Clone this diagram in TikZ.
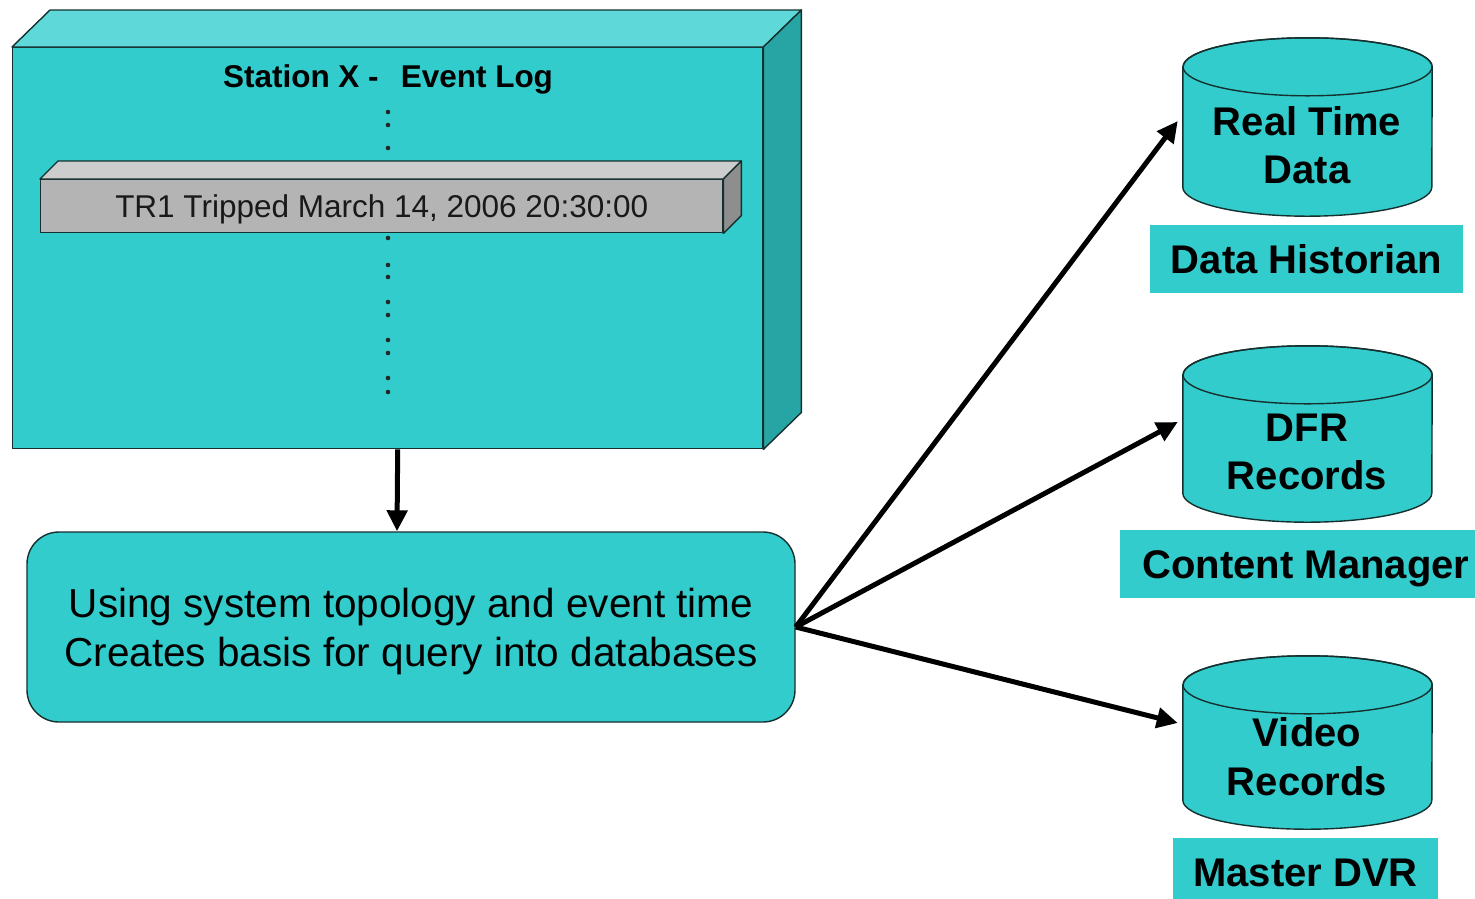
\documentclass[tikz,border=0pt]{standalone}
\usepackage{fontspec}
\setmainfont{Liberation Sans}
\usetikzlibrary{arrows.meta,calc}

\definecolor{aqua}{HTML}{33CCCC}
\definecolor{aquatop}{HTML}{5ED8D8}
\definecolor{aquaside}{HTML}{27A5A5}
\definecolor{barfront}{HTML}{B4B4B4}
\definecolor{bartop}{HTML}{CDCDCD}
\definecolor{barside}{HTML}{8E8E8E}
\definecolor{outline}{HTML}{15302F}

\tikzset{
  edge/.style={draw=outline, line width=1.4pt, line join=round},
  arr/.style={line width=5pt, -{Triangle[length=21pt,width=20pt]}},
  captext/.style={inner sep=0pt, text depth=0pt},
  tagbox/.style={fill=aqua, inner sep=0pt, minimum height=68pt,
    text height=28.6pt, text depth=0pt,
    font=\bfseries\fontsize{40}{48}\selectfont},
  dbline/.style={anchor=base, inner sep=0pt, font=\bfseries\fontsize{40}{48}\selectfont},
  qline/.style={anchor=base, inner sep=0pt, font=\fontsize{40.5}{50}\selectfont},
  dbbody/.style={minimum width=249pt, inner sep=0pt},
  logdot/.style={fill=black!85}
}

% cylinder drawn around the body node #1 (top and bottom ellipse centres at north/south)
\newcommand{\dbcylinder}[1]{%
  \draw[edge, fill=aqua] (#1.north west) -- (#1.south west)
    arc[start angle=180, end angle=360, x radius=124.5pt, y radius=29pt]
    -- (#1.north east)
    arc[start angle=0, end angle=180, x radius=124.5pt, y radius=29pt] -- cycle;
  \draw[edge] (#1.north) ellipse [x radius=124.5pt, y radius=29pt];
}

\begin{document}
\begin{tikzpicture}[x=1pt,y=-1pt]
\useasboundingbox (0,0) rectangle (1475,898);
\clip (0,0) rectangle (1475,898);

% ---- station event log (3-D block) ----
\node[edge, fill=aqua, minimum width=750pt, minimum height=401pt, inner sep=0pt,
      anchor=north west] (log) at (12,47) {};
\draw[edge, fill=aquatop] (log.north west) -- ([shift={(38,-37)}]log.north west)
  -- ([shift={(38,-37)}]log.north east) -- (log.north east) -- cycle;
\draw[edge, fill=aquaside] (log.north east) -- ([shift={(38,-37)}]log.north east)
  -- ([shift={(38,-37)}]log.south east) -- (log.south east) -- cycle;

\node[captext, text height=22.6pt, font=\bfseries\fontsize{31.5}{38}\selectfont]
  (title) at (388,76) {Station X -\hspace{22pt}Event Log};

% column of dots
\foreach \yy in {112,125,148,238,265,277,302,315,340,353,378,392}
  \fill[logdot] (388,\yy) circle (2.3pt);

% event entry (3-D bar)
\node[edge, fill=barfront, minimum width=682pt, minimum height=53pt, inner sep=0pt,
      anchor=north west, text height=22.6pt, text depth=0pt,
      font=\fontsize{31.5}{38}\selectfont, text=black!90] (evt) at (40,179)
  {TR1 Tripped March 14, 2006 20:30:00};
\draw[edge, fill=bartop] (evt.north west) -- ([shift={(18,-18)}]evt.north west)
  -- ([shift={(18,-18)}]evt.north east) -- (evt.north east) -- cycle;
\draw[edge, fill=barside] (evt.north east) -- ([shift={(18,-18)}]evt.north east)
  -- ([shift={(18,-18)}]evt.south east) -- (evt.south east) -- cycle;

% ---- query step ----
\node[edge, fill=aqua, rounded corners=32pt, minimum width=768pt, minimum height=190pt,
      inner sep=0pt] (query) at (411,627) {};
\node[qline] (q1) at (411,617) {Using system topology and event time};
\node[qline] (q2) at (411,666) {Creates basis for query into databases};

% ---- databases ----
\node[dbbody, minimum height=120pt] (rtd) at (1307.5,127) {};
\dbcylinder{rtd}
\node[dbline] (rtd1) at (1307,135) {Real Time};
\node[dbline] (rtd2) at (1307,183) {Data};
\node[tagbox, minimum width=313pt] (hist) at (1306.5,259) {Data Historian};

\node[dbbody, minimum height=118pt] (dfr) at (1307.5,434) {};
\dbcylinder{dfr}
\node[dbline] (dfr1) at (1307,441) {DFR};
\node[dbline] (dfr2) at (1307,489) {Records};
\node[tagbox, minimum width=372pt] (cman) at (1306,564) {Content Manager};

\node[dbbody, minimum height=115pt] (vid) at (1307.5,742.5) {};
\dbcylinder{vid}
\node[dbline] (vid1) at (1307,746) {Video};
\node[dbline] (vid2) at (1307,795) {Records};
\node[tagbox, minimum width=265pt] (dvr) at (1305.5,872) {Master DVR};

% ---- connectors ----
\draw[arr] ([xshift=10pt]log.south) -- ([xshift=-14pt]query.north);
\draw[arr] (query.east) -- ([shift={(-5,-6)}]rtd.west);
\draw[arr] (query.east) -- ([shift={(-5,-12)}]dfr.west);
\draw[arr] (query.east) -- ([shift={(-5,-19.5)}]vid.west);
\end{tikzpicture}
\end{document}
